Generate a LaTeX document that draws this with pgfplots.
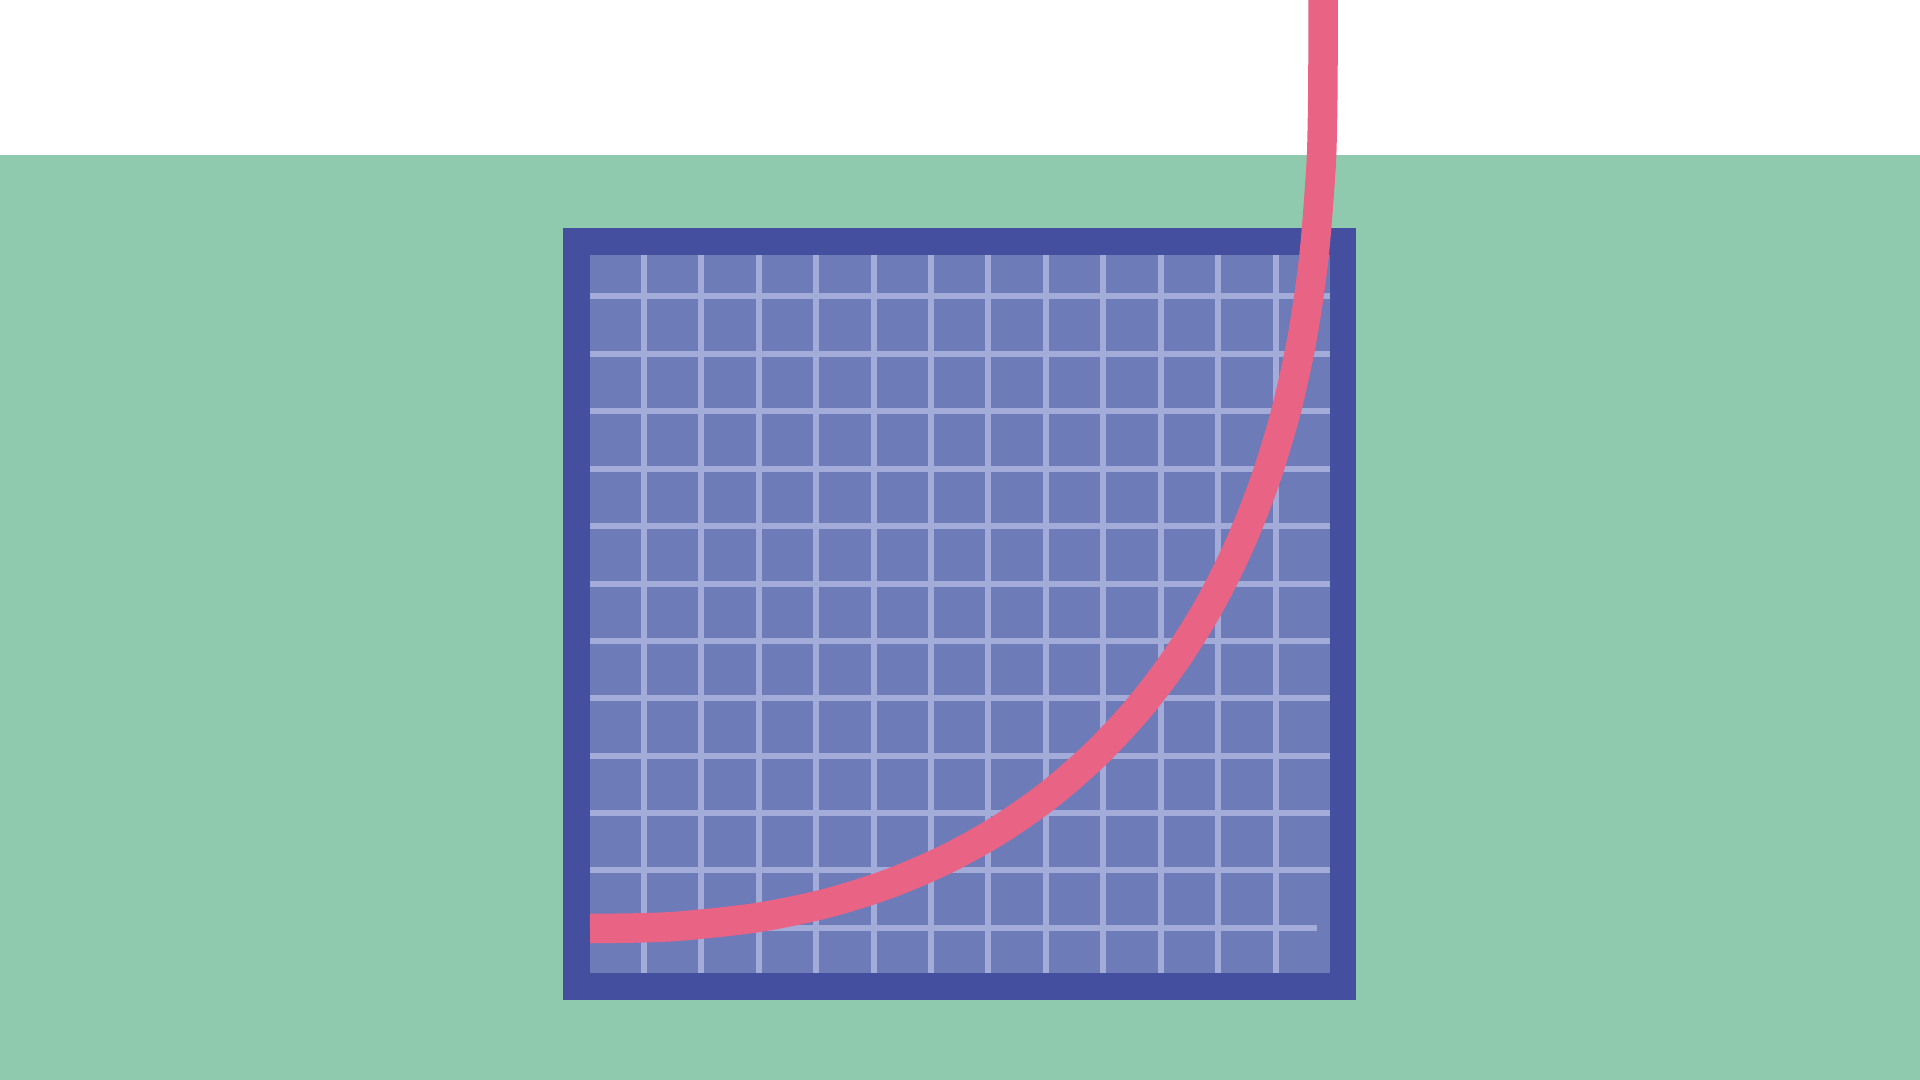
\documentclass[border=0pt]{standalone}
\usepackage{pgfplots}
\pgfplotsset{compat=1.18}
\definecolor{bggreen}{RGB}{143,201,174}
\definecolor{frameblue}{RGB}{69,79,159}
\definecolor{panelblue}{RGB}{109,123,185}
\definecolor{gridblue}{RGB}{163,171,217}
\definecolor{curvepink}{RGB}{232,99,132}

\begin{document}
\begin{tikzpicture}
\begin{axis}[
    width=19.2cm, height=10.8cm,
    scale only axis,
    xmin=0, xmax=1920,
    ymin=0, ymax=1080,
    y dir=reverse,
    hide axis,
    clip=true,
    unbounded coords=jump,
]
% background bands
\addplot[fill=white, draw=none] coordinates {(0,0) (1920,0) (1920,155) (0,155)} -- cycle;
\addplot[fill=bggreen, draw=none] coordinates {(0,155) (1920,155) (1920,1080) (0,1080)} -- cycle;
% frame and panel
\addplot[fill=frameblue, draw=none] coordinates {(563,228) (1356,228) (1356,1000) (563,1000)} -- cycle;
\addplot[fill=panelblue, draw=none] coordinates {(590,255) (1330,255) (1330,973) (590,973)} -- cycle;
% grid: vertical lines
\addplot[gridblue, line width=0.55mm] coordinates {
  (644,255) (644,973) (nan,nan)
  (701,255) (701,973) (nan,nan)
  (759,255) (759,973) (nan,nan)
  (816,255) (816,973) (nan,nan)
  (874,255) (874,973) (nan,nan)
  (931,255) (931,973) (nan,nan)
  (988,255) (988,973) (nan,nan)
  (1046,255) (1046,973) (nan,nan)
  (1103,255) (1103,973) (nan,nan)
  (1161,255) (1161,973) (nan,nan)
  (1218,255) (1218,973) (nan,nan)
  (1276,255) (1276,973)
};
% grid: horizontal lines
\addplot[gridblue, line width=0.55mm] coordinates {
  (590,296) (1330,296) (nan,nan)
  (590,354) (1330,354) (nan,nan)
  (590,411) (1330,411) (nan,nan)
  (590,469) (1330,469) (nan,nan)
  (590,526) (1330,526) (nan,nan)
  (590,584) (1330,584) (nan,nan)
  (590,641) (1330,641) (nan,nan)
  (590,698) (1330,698) (nan,nan)
  (590,756) (1330,756) (nan,nan)
  (590,813) (1330,813) (nan,nan)
  (590,870) (1330,870) (nan,nan)
  (590,928) (1317,928)
};
% curve
\addplot[curvepink, line width=2.95mm, smooth] coordinates {
  (590,928.5) (642.7,927.8) (684.3,925.7) (758.4,917.4) (825.4,903.6)
  (887.5,884.3) (945.4,859.6) (999.4,829.6) (1049.4,794.5) (1095.6,754.2)
  (1137.8,709.1) (1175.9,659.1) (1209.9,604.4) (1239.5,545.1) (1264.8,481.1)
  (1285.7,412.5) (1302.0,339.0) (1313.6,259.5) (1320.7,171.8) (1322.4,122.5)
  (1323,60) (1323,-30)
};
\end{axis}
\end{tikzpicture}
\end{document}
